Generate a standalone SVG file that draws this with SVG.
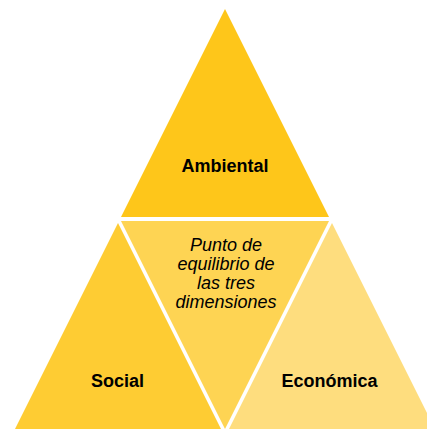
<svg xmlns="http://www.w3.org/2000/svg" width="427" height="429" viewBox="0 0 427 429">
<style>
.lbl{font-family:"Liberation Sans",Arial,sans-serif;font-size:18px;font-weight:bold;fill:#000;text-anchor:middle}
.mid{font-family:"Liberation Sans",Arial,sans-serif;font-size:18px;font-style:italic;fill:#000;text-anchor:middle}
</style>
<rect width="427" height="429" fill="#fff"/>
<g id="ambiental">
<polygon points="225,9 121,217 329,217" fill="#FEC61A"/>
<text class="lbl" x="225" y="172">Ambiental</text>
</g>
<g id="equilibrio">
<polygon points="121,221 329,221 225,429" fill="#FED453"/>
<text class="mid" x="226" y="251">Punto de</text>
<text class="mid" x="226" y="270">equilibrio de</text>
<text class="mid" x="226" y="289">las tres</text>
<text class="mid" x="226" y="308">dimensiones</text>
</g>
<g id="social">
<polygon points="118,223 10,439 226,439" fill="#FECC33"/>
<text class="lbl" x="117.5" y="387">Social</text>
</g>
<g id="economica">
<polygon points="332,223 224,439 440,439" fill="#FEDD7E"/>
<text class="lbl" x="329.5" y="387">Económica</text>
</g>
<g id="connectors"/>
</svg>
